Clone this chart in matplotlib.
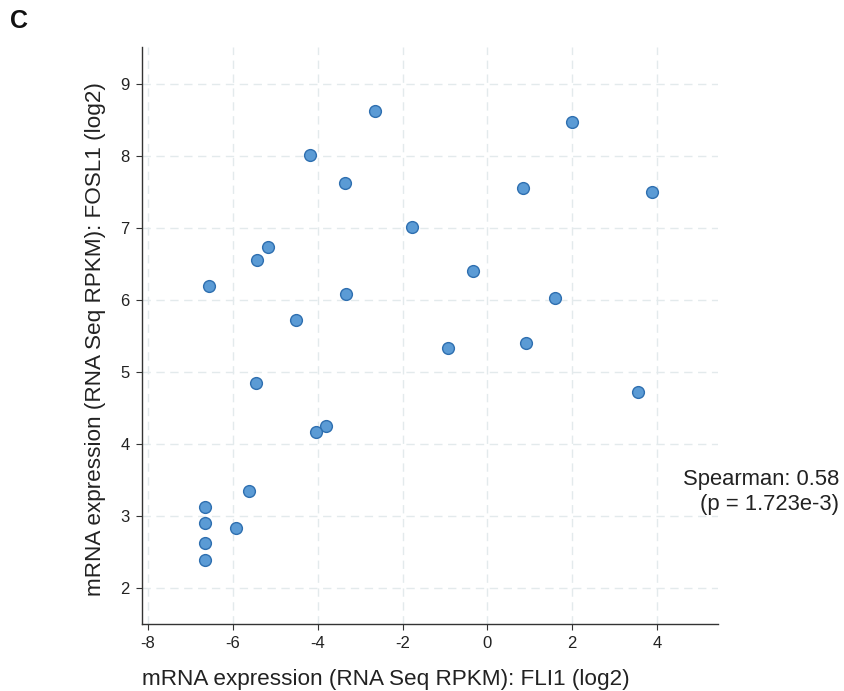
import matplotlib
matplotlib.use("Agg")
import matplotlib.pyplot as plt

plt.rcParams['font.family'] = ['Liberation Sans', 'DejaVu Sans']

# FLI1 vs FOSL1 expression (log2 RNA-Seq RPKM) per sample
fli1 = [-2.64, 2.00, -4.17, -3.35, 0.85, 3.89, -1.77, -5.17, -5.42, -0.33,
        -6.56, -3.33, 1.60, -4.50, -0.92, 0.90, -5.45, 3.56, -3.80, -4.03,
        -5.61, -6.65, -6.65, -5.92, -6.65, -6.65]
fosl1 = [8.62, 8.47, 8.01, 7.62, 7.56, 7.50, 7.01, 6.74, 6.56, 6.40,
         6.19, 6.08, 6.03, 5.72, 5.33, 5.40, 4.85, 4.72, 4.25, 4.17,
         3.35, 3.12, 2.90, 2.83, 2.62, 2.39]
x_ticks = [-8, -6, -4, -2, 0, 2, 4]
y_ticks = [2, 3, 4, 5, 6, 7, 8, 9]
spearman_r = 0.58
spearman_p = "1.723e-3"

fig = plt.figure(figsize=(8.45, 6.91), dpi=100)
ax = fig.add_axes([0.168, 0.097, 0.682, 0.8355])

ax.scatter(fli1, fosl1, s=72, facecolor='#5b9bd5', edgecolor='#2e6fb0',
           linewidth=1.0, zorder=3)

ax.set_xlim(-8.14, 5.44)
ax.set_ylim(1.5, 9.52)
ax.set_xticks(x_ticks)
ax.set_yticks(y_ticks)
ax.set_xticklabels([str(v) for v in x_ticks])
ax.set_yticklabels([str(v) for v in y_ticks])
ax.tick_params(labelsize=12, length=4, width=0.8, pad=5, color='#333333',
               labelcolor='#222222')

ax.grid(True, linestyle=(0, (6, 4)), color='#e3eaec', linewidth=1.0, zorder=0)
ax.set_axisbelow(True)
for side in ('top', 'right'):
    ax.spines[side].set_visible(False)
for side in ('left', 'bottom'):
    ax.spines[side].set_color('#333333')
    ax.spines[side].set_linewidth(1.0)

ax.set_xlabel('mRNA expression (RNA Seq RPKM): FLI1 (log2)', fontsize=16.2,
              color='#222222', ha='left')
ax.xaxis.set_label_coords(0.0, -0.078)
ax.set_ylabel('mRNA expression (RNA Seq RPKM): FOSL1 (log2)', fontsize=16.2,
              color='#222222')
ax.yaxis.set_label_coords(-0.063, 0.494)

fig.text(0.993, 0.288, f'Spearman: {spearman_r:.2f}\n(p = {spearman_p})',
         ha='right', va='center', fontsize=15.8, color='#222222', linespacing=1.2)
fig.text(0.012, 0.97, 'C', fontsize=18, fontweight='bold', ha='left', va='center',
         color='#111111')

fig.savefig('out.png', dpi=100)
